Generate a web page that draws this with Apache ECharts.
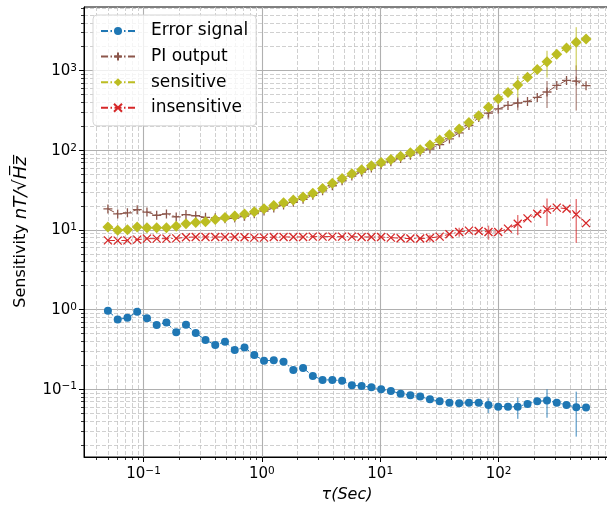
<!DOCTYPE html>
<html>
<head>
<meta charset="utf-8">
<script src="https://cdn.jsdelivr.net/npm/echarts@6/dist/echarts.min.js"></script>
<style>
    html, body { margin: 0; padding: 0; background: #fff; }
    #chart { width: 607px; height: 507px; }
</style>
</head>
<body>
<div id="chart"></div>
<script>
    // averaging time tau (s)
    const tau = [0.0500, 0.0605, 0.0731, 0.0884, 0.1069, 0.1292, 0.1562, 0.1889, 0.2284, 0.2761,
        0.3339, 0.4037, 0.4881, 0.5902, 0.7137, 0.8629, 1.043, 1.261, 1.525, 1.844,
        2.230, 2.696, 3.260, 3.941, 4.764, 5.761, 6.966, 8.42, 10.18, 12.31,
        14.89, 18.00, 21.77, 26.32, 31.82, 38.47, 46.52, 56.23, 68.00, 82.22,
        99.4, 120.2, 145.3, 175.7, 212.5, 256.9, 310.6, 375.5, 454.0, 549.0];

    // Error signal
    const errSignal = [0.97, 0.75, 0.79, 0.94, 0.78, 0.64, 0.69, 0.52, 0.645, 0.51,
        0.415, 0.36, 0.395, 0.31, 0.335, 0.27, 0.228, 0.231, 0.222, 0.175,
        0.185, 0.147, 0.131, 0.131, 0.128, 0.112, 0.110, 0.106, 0.100, 0.0953,
        0.0881, 0.0841, 0.0808, 0.0749, 0.0707, 0.0679, 0.0667, 0.0679, 0.0679, 0.0636,
        0.0605, 0.0605, 0.0605, 0.0655, 0.0707, 0.072, 0.0679, 0.0636, 0.0594, 0.0588];
    const errSignalErr = [0, 0, 0, 0, 0, 0, 0, 0, 0, 0,
        0, 0, 0, 0, 0, 0, 0, 0, 0, 0,
        0, 0, 0, 0, 0, 0, 0, 0, 0, 0,
        0, 0, 0, 0, 0, 0, 0.004, 0, 0, 0.0134,
        0, 0, 0.018, 0, 0, 0.028, 0, 0, 0.034, 0];

    // PI output
    const piOutput = [18.4, 15.9, 16.4, 18.0, 16.8, 15.3, 15.9, 14.6, 15.6, 15.1,
        14.4, 14.2, 13.8, 14.1, 14.9, 16.0, 17.3, 18.9, 20.6, 22.3,
        24.3, 27.2, 31.0, 35.9, 41.5, 47.6, 53.5, 60.0, 65.8, 72.0,
        79.0, 87.0, 95, 104, 118, 139, 166, 205, 258, 294,
        331, 367, 393, 412, 462, 540, 653, 755, 741, 648];
    const piOutputErr = [0, 0, 0, 0, 0, 0, 0, 0, 0, 0,
        0, 0, 0, 0, 0, 0, 0, 0, 0, 0,
        0, 0, 0, 0, 0, 0, 0, 0, 0, 0,
        0, 0, 0, 0, 0, 0, 0, 0, 0, 50,
        0, 0, 75, 0, 0, 200, 0, 0, 425, 0];

    // sensitive
    const sensitive = [10.9, 9.9, 10.1, 10.9, 10.7, 10.7, 10.7, 11.1, 12.0, 12.4,
        12.7, 13.5, 14.3, 15.0, 15.9, 17.0, 18.5, 20.3, 22.0, 23.8,
        26.0, 29.0, 33.2, 38.5, 44.4, 51.0, 57.2, 64.1, 70.3, 77.0,
        84.3, 93.0, 102, 117, 135, 157, 186, 223, 271, 348,
        443, 532, 663, 826, 1032, 1300, 1606, 1932, 2270, 2500];
    const sensitiveErr = [0, 0, 0, 0, 0, 0, 0, 0, 0, 0,
        0, 0, 0, 0, 0, 0, 0, 0, 0, 0,
        0, 0, 0, 0, 0, 0, 0, 0, 0, 0,
        0, 0, 0, 0, 0, 0, 0, 0, 0, 0,
        0, 0, 200, 0, 0, 480, 0, 0, 1250, 0];

    // insensitive
    const insensitive = [7.41, 7.35, 7.41, 7.56, 7.78, 7.78, 7.78, 7.85, 8.09, 8.17,
        8.17, 8.17, 8.17, 8.17, 8.09, 8.01, 8.01, 8.17, 8.17, 8.17,
        8.17, 8.25, 8.25, 8.25, 8.25, 8.25, 8.17, 8.17, 8.17, 8.02,
        7.87, 7.80, 7.80, 7.94, 8.26, 8.83, 9.44, 9.82, 9.72, 9.44,
        9.44, 10.4, 12.0, 14.0, 16.0, 18.0, 19.1, 18.5, 15.7, 12.2];
    const insensitiveErr = [0, 0, 0, 0, 0, 0, 0, 0, 0, 0,
        0, 0, 0, 0, 0, 0, 0, 0, 0, 0,
        0, 0, 0, 0, 0, 0, 0, 0, 0, 0,
        0, 0, 0, 0.8, 0, 0, 1.2, 0, 0, 1.9,
        0, 0, 3.4, 0, 0, 6.8, 0, 0, 8.8, 0];

    // 刻度
    const xMajorTicks = [0.1, 1, 10, 100];
    const yMajorTicks = [0.1, 1, 10, 100, 1000];
    function minorTicks(fromExp, toExp) {
        let out = [];
        for (let e = fromExp; e <= toExp; e++) {
            for (let m = 2; m <= 9; m++) out.push(+(m * Math.pow(10, e)).toPrecision(3));
        }
        return out;
    }
    const xMinorTicks = minorTicks(-2, 2);
    const yMinorTicks = minorTicks(-2, 3);

    const FONT = 'DejaVu Sans';
    const dashDot = [7, 2.5, 1.5, 2.5];

    function powLabel(v) {
        let e = Math.round(Math.log10(v));
        return '{b|10}{s|' + String(e).replace('-', '\u2212') + '}';
    }
    const powRich = {
        b: {fontSize: 15, fontFamily: FONT, color: '#000', lineHeight: 16, padding: [4, 0, 0, 0], verticalAlign: 'bottom'},
        s: {fontSize: 10.5, fontFamily: FONT, color: '#000', lineHeight: 14, verticalAlign: 'top'}
    };

    //主刻度轴
    function majorAxis(ticks, extra) {
        return Object.assign({
            type: 'log',
            axisLine: {show: true, onZero: false, lineStyle: {color: '#000', width: 1}},
            axisTick: {show: true, length: 5, lineStyle: {color: '#000', width: 1}, customValues: ticks},
            axisLabel: {customValues: ticks, formatter: powLabel, rich: powRich},
            splitLine: {show: true, lineStyle: {color: '#b0b0b0', width: 1.1}},
            minorTick: {show: false},
            minorSplitLine: {show: false}
        }, extra);
    }
    //次刻度轴
    function minorAxis(ticks, extra) {
        return Object.assign({
            type: 'log',
            axisLine: {show: false},
            axisTick: {show: true, length: 3, lineStyle: {color: '#000', width: 0.8}, customValues: ticks},
            axisLabel: {show: false},
            splitLine: {show: true, lineStyle: {color: '#c4c4c4', width: 0.8, type: [4, 2]}}
        }, extra);
    }

    const xRange = {min: 0.0314, max: 875};
    const yRange = {min: 0.0141, max: 6310};

    function lineSeries(name, ys, color, symbol, size, z, extraItem) {
        return {
            name: name,
            type: 'line',
            xAxisIndex: 0,
            yAxisIndex: 0,
            data: tau.map((t, i) => [t, ys[i]]),
            symbol: symbol,
            symbolSize: size,
            showAllSymbol: true,
            lineStyle: {color: color, width: 1, type: dashDot},
            itemStyle: Object.assign({color: color}, extraItem || {}),
            emphasis: {disabled: true},
            z: z
        };
    }

    function errorSeries(name, ys, es, color, z) {
        let data = [];
        ys.forEach((y, i) => {
            if (es[i] > 0) data.push([tau[i], y - es[i], y + es[i]]);
        });
        return {
            name: name + ' err',
            type: 'custom',
            xAxisIndex: 0,
            yAxisIndex: 0,
            silent: true,
            z: z,
            encode: {x: 0, y: [1, 2]},
            data: data,
            renderItem: function (params, api) {
                let p0 = api.coord([api.value(0), api.value(1)]);
                let p1 = api.coord([api.value(0), api.value(2)]);
                return {
                    type: 'line',
                    shape: {x1: p0[0], y1: p0[1], x2: p1[0], y2: p1[1]},
                    style: {stroke: color, lineWidth: 1.5, opacity: 0.6}
                };
            }
        };
    }

    const blue = '#1f77b4', brown = '#8c564b', olive = '#bcbd22', red = '#d62728';

    let myChart = echarts.init(document.getElementById('chart'));
    let option = {
        animation: false,
        grid: {
            left: 84, right: -3, top: 7, bottom: 50,
            show: true, borderColor: '#000', borderWidth: 1,
            containLabel: false, outerBoundsMode: 'none'
        },
        legend: {
            data: ['Error signal', 'PI output', 'sensitive', 'insensitive'],
            orient: 'vertical',
            left: 93,
            top: 15,
            padding: [6, 8, 8, 7],
            itemGap: 5.6,
            itemWidth: 34,
            itemHeight: 10,
            backgroundColor: 'rgba(255,255,255,0.8)',
            borderColor: '#d5d5d5',
            borderWidth: 1,
            borderRadius: 4,
            selectedMode: false,
            textStyle: {fontSize: 17, fontFamily: FONT, color: '#000', lineHeight: 20, padding: [0, 0, 0, 11]}
        },
        xAxis: [
            majorAxis(xMajorTicks, Object.assign({
                position: 'bottom',
                name: 'τ(Sec)',
                nameLocation: 'middle',
                nameGap: 29,
                nameTextStyle: {fontSize: 16, fontFamily: FONT, fontStyle: 'italic', color: '#000'}
            }, xRange, {axisLabel: {customValues: xMajorTicks, formatter: powLabel, rich: powRich, margin: 9}})),
            minorAxis(xMinorTicks, Object.assign({position: 'bottom'}, xRange))
        ],
        yAxis: [
            majorAxis(yMajorTicks, Object.assign({
                position: 'left',
                name: 'Sensitivity {i|nT/√H\u0305z\u0305}',
                nameLocation: 'middle',
                nameGap: 54,
                nameTextStyle: {
                    fontSize: 16, fontFamily: FONT, color: '#000',
                    rich: {i: {fontSize: 18, fontFamily: FONT, fontStyle: 'italic', color: '#000'}}
                }
            }, yRange, {axisLabel: {customValues: yMajorTicks, formatter: powLabel, rich: powRich, margin: 7}})),
            minorAxis(yMinorTicks, Object.assign({position: 'left'}, yRange))
        ],
        series: [
            errorSeries('Error signal', errSignal, errSignalErr, blue, 2),
            lineSeries('Error signal', errSignal, blue, 'circle', 8, 3),
            errorSeries('PI output', piOutput, piOutputErr, brown, 4),
            lineSeries('PI output', piOutput, brown, 'path://M0,5L10,5M5,0L5,10', 9, 5,
                {borderColor: brown, borderWidth: 1.3}),
            errorSeries('sensitive', sensitive, sensitiveErr, olive, 6),
            lineSeries('sensitive', sensitive, olive, 'diamond', 11, 7),
            errorSeries('insensitive', insensitive, insensitiveErr, red, 8),
            lineSeries('insensitive', insensitive, red, 'path://M0,0L10,10M0,10L10,0', 8, 9,
                {borderColor: red, borderWidth: 1.3})
        ]
    };
    myChart.setOption(option);
</script>
</body>
</html>
